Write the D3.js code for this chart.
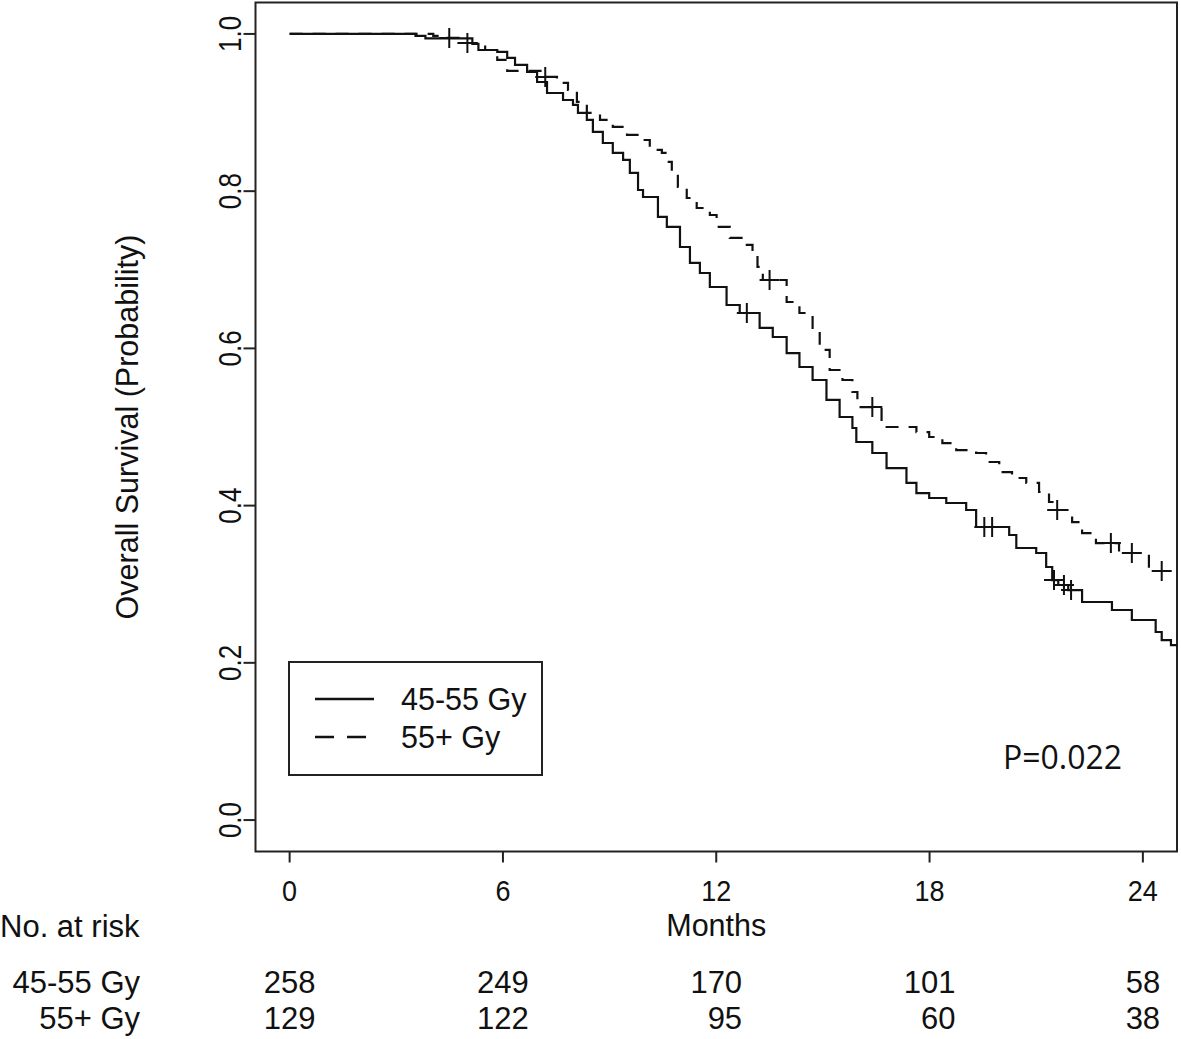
<!DOCTYPE html>
<html><head><meta charset="utf-8">
<script src="https://cdn.jsdelivr.net/npm/d3@7/dist/d3.min.js"></script>
<style>body{margin:0;background:#fff}svg{display:block}</style>
</head><body>
<svg id="c" width="1181" height="1039"></svg>
<script>
// ---- data ----
const groupNames = ["45-55 Gy", "55+ Gy"];
// Kaplan-Meier step times (months) and survival after each step
const lowTimes = [3.54,3.82,5.14,5.31,5.84,6.12,6.34,6.68,6.96,7.24,7.69,7.97,8.11,8.36,8.53,8.81,9.09,9.38,9.57,9.80,9.94,10.36,10.61,10.98,11.26,11.54,11.82,12.29,12.66,13.22,13.59,13.98,14.34,14.71,15.10,15.47,15.83,15.94,16.39,16.79,17.35,17.63,17.99,18.47,19.03,19.31,20.24,20.44,21.00,21.28,21.45,21.62,21.90,22.29,23.13,23.69,24.36,24.53,24.79];
const lowSurv  = [0.9975,0.9943,0.9873,0.9796,0.9771,0.9695,0.9606,0.9517,0.9389,0.9249,0.9160,0.9097,0.8995,0.8906,0.8753,0.8613,0.8486,0.8397,0.8232,0.8015,0.7926,0.7672,0.7545,0.7290,0.7087,0.6959,0.6781,0.6552,0.6450,0.6260,0.6145,0.5941,0.5763,0.5598,0.5344,0.5127,0.4987,0.4809,0.4669,0.4478,0.4288,0.4160,0.4097,0.4033,0.3944,0.3728,0.3626,0.3461,0.3397,0.3219,0.3053,0.2990,0.2926,0.2774,0.2672,0.2545,0.2392,0.2290,0.2226];
const lowCensor = [12.86,19.54,19.76,21.50,21.78,21.98];

const highTimes = [4.04,4.24,4.80,5.50,5.84,6.12,7.13,7.52,7.83,8.08,8.36,8.73,9.09,9.49,9.85,10.13,10.47,10.61,10.75,10.92,11.17,11.45,11.82,12.01,12.38,12.86,13.02,13.16,13.31,13.98,14.34,14.71,14.91,15.19,15.55,15.83,15.97,16.65,17.63,17.99,18.36,18.75,19.31,19.59,19.96,20.32,20.72,21.08,21.36,21.50,22.01,22.29,22.68,23.33,24.17];
const highSurv  = [0.9975,0.9949,0.9885,0.9796,0.9669,0.9529,0.9453,0.9377,0.9288,0.9135,0.8995,0.8906,0.8817,0.8715,0.8651,0.8524,0.8486,0.8372,0.8232,0.8053,0.7913,0.7786,0.7697,0.7545,0.7405,0.7316,0.7214,0.7036,0.6870,0.6590,0.6450,0.6196,0.5980,0.5725,0.5598,0.5445,0.5254,0.5000,0.4936,0.4873,0.4796,0.4707,0.4669,0.4555,0.4427,0.4351,0.4288,0.4173,0.4046,0.3944,0.3791,0.3651,0.3524,0.3397,0.3168];
const highCensor = [4.49,5.00,7.19,13.50,16.39,21.59,23.10,23.69,24.53];

const xTicks = [0,6,12,18,24];
const yTicks = [0,0.2,0.4,0.6,0.8,1.0];
const riskLow  = [258,249,170,101,58];
const riskHigh = [129,122,95,60,38];
const pText = "P=0.022";

// ---- layout ----
const svg = d3.select("#c");
const FONT = "'Liberation Sans', Arial, sans-serif";
const x = d3.scaleLinear().domain([-0.96, 24.96]).range([255.5, 1177]);
const y = d3.scaleLinear().domain([-0.04, 1.04]).range([851.5, 2.5]);
const [x0, x1] = x.range(), [y0, y1] = [y.range()[1], y.range()[0]];

function txt(g, px, py, s, o) {
  o = o || {};
  const sx = o.sx || 1, sy = o.sy || 1;
  return g.append("text")
    .attr("transform", `translate(${px},${py}) scale(${sx},${sy})` + (o.rot ? " rotate(-90)" : ""))
    .attr("text-anchor", o.anchor || "middle")
    .attr("font-family", o.family || FONT)
    .attr("font-size", o.size || 31)
    .attr("fill", "#111")
    .text(s);
}

svg.append("defs").append("clipPath").attr("id", "clip")
  .append("rect").attr("x", x0).attr("y", y0).attr("width", x1 - x0).attr("height", y1 - y0);

// box
svg.append("rect").attr("x", x0).attr("y", y0).attr("width", x1 - x0).attr("height", y1 - y0)
  .attr("fill", "none").attr("stroke", "#222").attr("stroke-width", 2);

// x axis ticks & labels
const gx = svg.append("g");
xTicks.forEach(t => {
  gx.append("line").attr("x1", x(t)).attr("x2", x(t)).attr("y1", y1).attr("y2", y1 + 11)
    .attr("stroke", "#222").attr("stroke-width", 2);
  txt(gx, x(t), 901, String(t), {size: 27, sy: 1.1});
});
// y axis ticks & labels
const gy = svg.append("g");
yTicks.forEach(v => {
  gy.append("line").attr("x1", x0 - 12).attr("x2", x0).attr("y1", y(v)).attr("y2", y(v))
    .attr("stroke", "#222").attr("stroke-width", 2);
  txt(gy, 241, y(v), v.toFixed(1), {rot: true, size: 26, sx: 1.2});
});
txt(svg, 138, (y0 + y1) / 2, "Overall Survival (Probability)", {rot: true, size: 30.5});
txt(svg, x(12), 936, "Months", {size: 30.5});

// curves
function steps(times, surv) {
  const pts = [{t: 0, s: 1}];
  times.forEach((t, i) => pts.push({t, s: surv[i]}));
  pts.push({t: 24.96, s: surv[surv.length - 1]});
  return pts;
}
function survAt(times, surv, t) {
  let s = 1;
  times.forEach((tt, i) => { if (tt <= t) s = surv[i]; });
  return s;
}
const line = d3.line().x(d => x(d.t)).y(d => y(d.s)).curve(d3.curveStepAfter);
const plot = svg.append("g").attr("clip-path", "url(#clip)");
const groups = [
  {times: lowTimes, surv: lowSurv, cens: lowCensor, dash: null},
  {times: highTimes, surv: highSurv, cens: highCensor, dash: "13,10"}
];
groups.forEach(g => {
  plot.append("path").attr("d", line(steps(g.times, g.surv)))
    .attr("fill", "none").attr("stroke", "#111").attr("stroke-width", 2.2)
    .attr("stroke-dasharray", g.dash);
  g.cens.forEach(t => {
    const cx = x(t), cy = y(survAt(g.times, g.surv, t));
    plot.append("path").attr("d", `M${cx - 10},${cy}H${cx + 10}M${cx},${cy - 10}V${cy + 10}`)
      .attr("stroke", "#111").attr("stroke-width", 2);
  });
});

// legend
const lg = svg.append("g");
lg.append("rect").attr("x", 289).attr("y", 662).attr("width", 253).attr("height", 113)
  .attr("fill", "#fff").attr("stroke", "#222").attr("stroke-width", 2);
[699, 737].forEach((ly, i) => {
  lg.append("line").attr("x1", 315).attr("x2", i ? 366 : 374).attr("y1", ly).attr("y2", ly)
    .attr("stroke", "#111").attr("stroke-width", 2.5).attr("stroke-dasharray", groups[i].dash ? "19,13" : null);
  txt(lg, 401, ly + 11, groupNames[i], {anchor: "start", size: 30.5});
});

// p value
txt(svg, 1003, 769, pText, {anchor: "start", size: 32, family: "'Open Sans', 'Noto Sans', sans-serif"});

// number at risk
txt(svg, 0, 937, "No. at risk", {anchor: "start"});
txt(svg, 140, 993, groupNames[0], {anchor: "end"});
txt(svg, 140, 1029, groupNames[1], {anchor: "end"});
xTicks.forEach((t, i) => {
  const top = txt(svg, x(t), 993, String(riskLow[i]));
  const w = top.node().getComputedTextLength();
  txt(svg, x(t) + w / 2, 1029, String(riskHigh[i]), {anchor: "end"});
});
</script>
</body></html>
